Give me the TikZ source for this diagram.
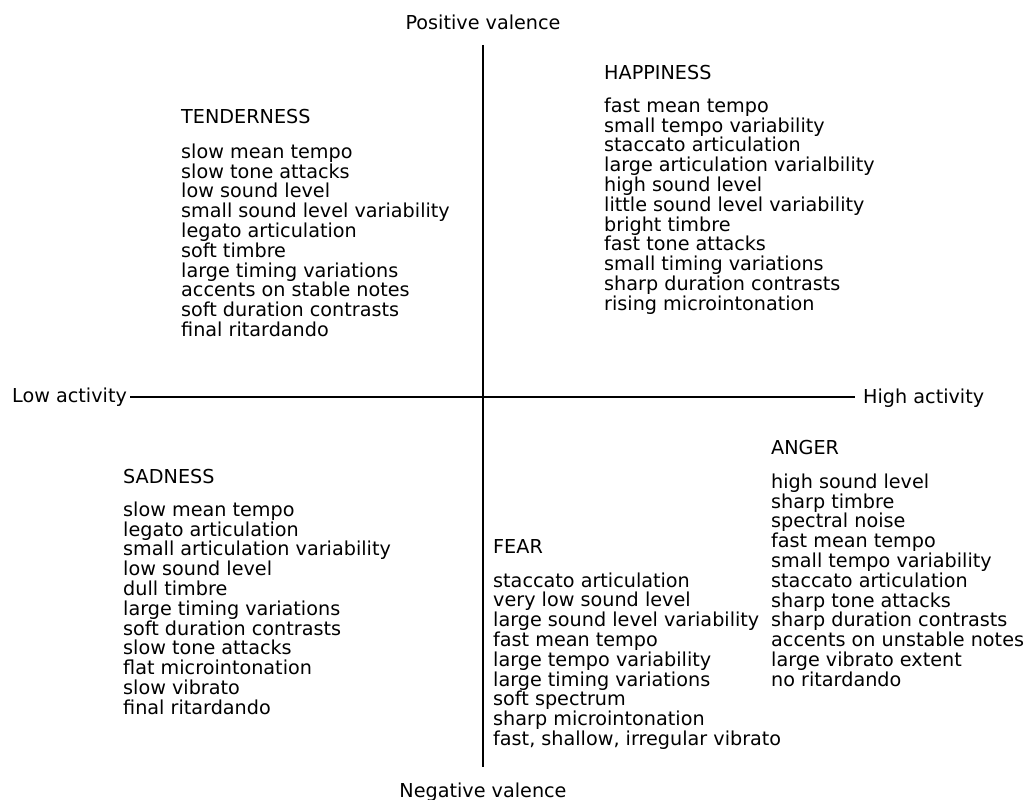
\documentclass[tikz,border=0pt]{standalone}
\usepackage{fontspec}
\setmainfont{DejaVu Sans}
\usetikzlibrary{positioning}

\tikzset{
  lbl/.style={font=\fontsize{19.2}{19.8}\selectfont, inner sep=0pt},
  cue/.style={lbl, align=left, anchor=north west},
  axis/.style={line width=2.6pt},
}

\begin{document}
\begin{tikzpicture}[x=1pt,y=-1pt]
    \useasboundingbox (0,0) rectangle (1026,800);
    % Axis labels
    \node[lbl, anchor=base] (pos) at (483,30) {Positive valence};
    \node[lbl, anchor=base] (neg) at (483,797) {Negative valence};
    \node[lbl, anchor=base west] (low) at (12,402) {Low activity};
    \node[lbl, anchor=base west] (high) at (863,403) {High activity};
    % Axes
    \coordinate (north) at (483,45);
    \coordinate (south) at (483,767);
    \coordinate (west) at (130,397);
    \coordinate (east) at (855,397);
    \draw[axis] (north) -- (south);
    \draw[axis] (west) -- (east);

    % Tenderness (upper left), top = heading baseline - cap height
    \node[cue] (tender) at (181,109) {TENDERNESS\\[15pt]
        slow mean tempo\\
        slow tone attacks\\
        low sound level\\
        small sound level variability\\
        legato articulation\\
        soft timbre\\
        large timing variations\\
        accents on stable notes\\
        soft duration contrasts\\
        final ritardando};

    % Happiness (upper right)
    \node[cue] (happy) at (604,65) {HAPPINESS\\[13pt]
        fast mean tempo\\
        small tempo variability\\
        staccato articulation\\
        large articulation varialbility\\
        high sound level\\
        little sound level variability\\
        bright timbre\\
        fast tone attacks\\
        small timing variations\\
        sharp duration contrasts\\
        rising microintonation};

    % Sadness (lower left)
    \node[cue] (sad) at (123,469) {SADNESS\\[13pt]
        slow mean tempo\\
        legato articulation\\
        small articulation variability\\
        low sound level\\
        dull timbre\\
        large timing variations\\
        soft duration contrasts\\
        slow tone attacks\\
        flat microintonation\\
        slow vibrato\\
        final ritardando};

    % Fear (lower middle)
    \node[cue] (fear) at (493,539) {FEAR\\[14pt]
        staccato articulation\\
        very low sound level\\
        large sound level variability\\
        fast mean tempo\\
        large tempo variability\\
        large timing variations\\
        soft spectrum\\
        sharp microintonation\\
        fast, shallow, irregular vibrato};

    % Anger (lower right)
    \node[cue] (anger) at (771,440) {ANGER\\[14pt]
        high sound level\\
        sharp timbre\\
        spectral noise\\
        fast mean tempo\\
        small tempo variability\\
        staccato articulation\\
        sharp tone attacks\\
        sharp duration contrasts\\
        accents on unstable notes\\
        large vibrato extent\\
        no ritardando};
\end{tikzpicture}
\end{document}
